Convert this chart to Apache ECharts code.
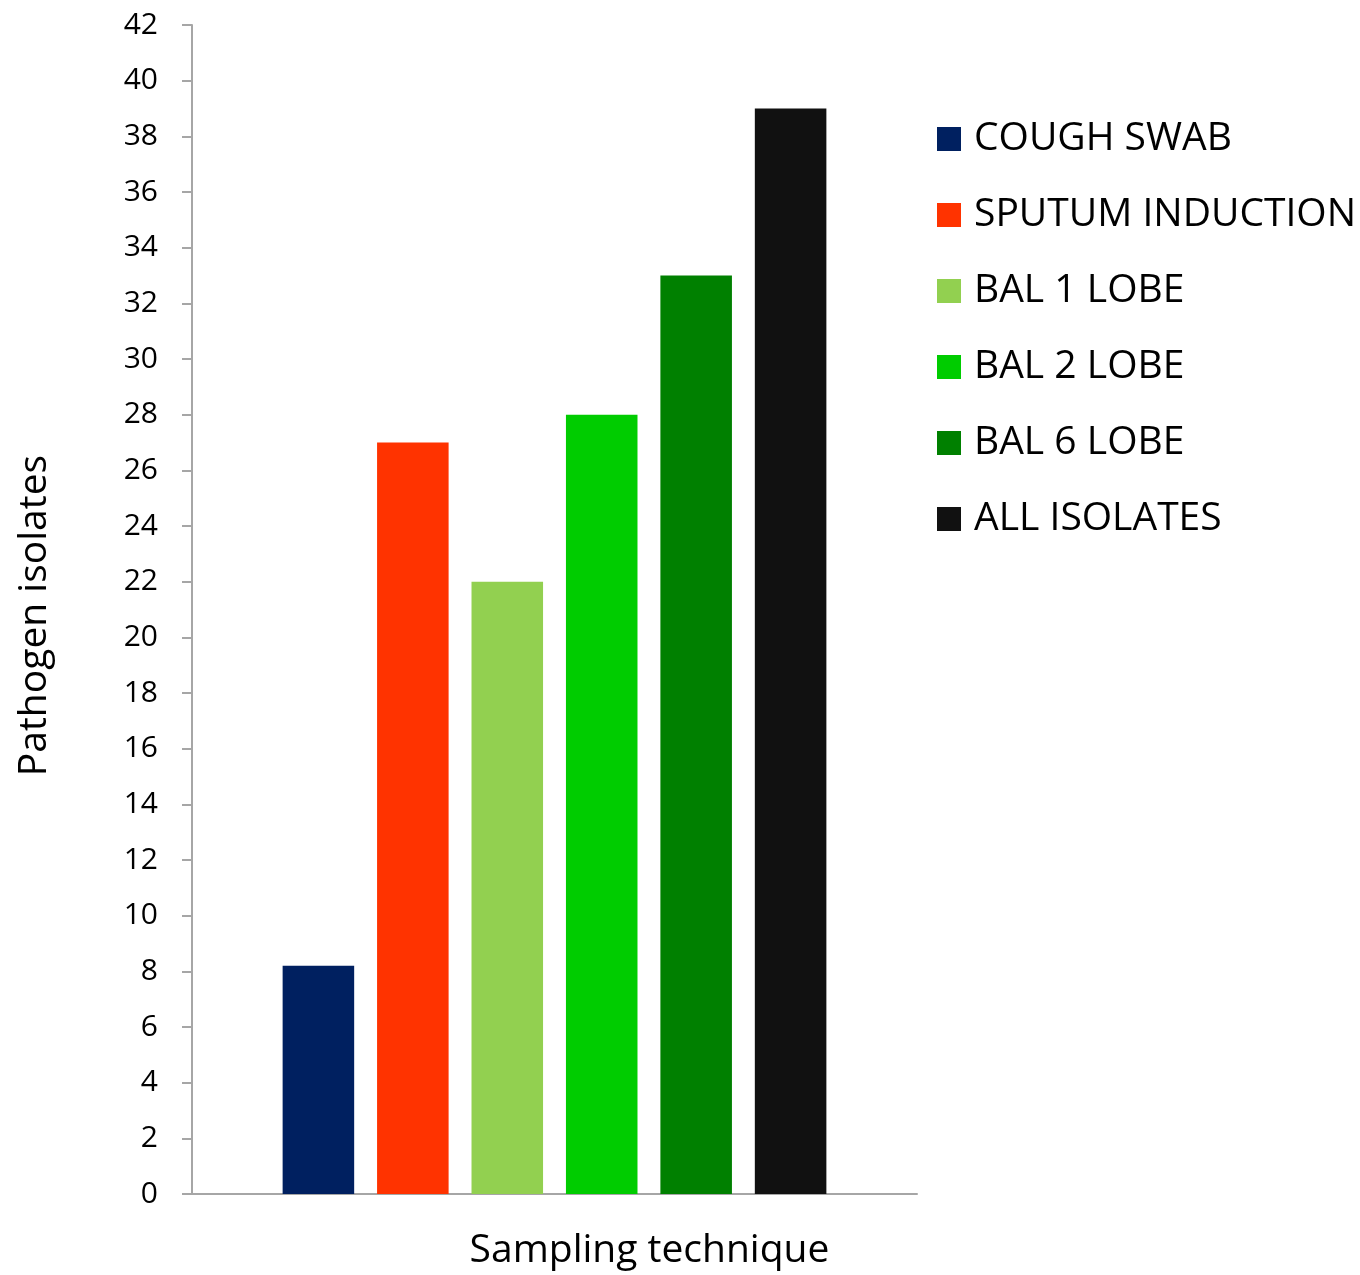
<!DOCTYPE html>
<html>
<head>
<meta charset="utf-8">
<script src="https://cdn.jsdelivr.net/npm/echarts@6/dist/echarts.min.js"></script>
<style>
  html, body { margin: 0; padding: 0; background: #fff; }
  #chart { width: 1360px; height: 1275px; }
</style>
</head>
<body>
<div id="chart"></div>
<script>
// Pathogen isolates recovered by each sampling technique
const categories = [''];
const seriesNames = ['COUGH SWAB', 'SPUTUM INDUCTION', 'BAL 1 LOBE', 'BAL 2 LOBE', 'BAL 6 LOBE', 'ALL ISOLATES'];
const seriesValues = [8.2, 27, 22, 28, 33, 39];
const seriesColors = ['#002060', '#FF3300', '#92D050', '#00CC00', '#008000', '#111111'];
const yTicks = { min: 0, max: 42, interval: 2 };

const FONT = '"Open Sans", "Noto Sans", sans-serif';

const chart = echarts.init(document.getElementById('chart'), null, { renderer: 'canvas' });

const series = seriesNames.map((name, i) => ({
  name: name,
  type: 'bar',
  data: [seriesValues[i]],
  itemStyle: { color: seriesColors[i] },
  barGap: '32%',
  barCategoryGap: '25%'
}));

chart.setOption({
  animation: false,
  backgroundColor: '#ffffff',
  textStyle: { fontFamily: FONT, color: '#000' },
  grid: { left: 192, right: 443, top: 25, bottom: 81, containLabel: false, outerBoundsMode: 'none' },
  legend: {
    orient: 'vertical',
    left: 932,
    top: 112,
    itemWidth: 24,
    itemHeight: 24,
    itemGap: 32,
    icon: 'rect',
    textStyle: { fontFamily: FONT, fontSize: 39, color: '#000', padding: [0, 0, 0, 8], lineHeight: 44 },
    data: seriesNames
  },
  xAxis: {
    type: 'category',
    data: categories,
    name: 'Sampling technique',
    nameLocation: 'middle',
    nameGap: 37,
    nameTextStyle: { fontFamily: FONT, fontSize: 39, color: '#000', padding: [0, 0, 0, 190] },
    axisLine: { lineStyle: { color: '#A6A6A6', width: 2 } },
    axisTick: { show: false },
    axisLabel: { show: false }
  },
  yAxis: {
    type: 'value',
    min: yTicks.min,
    max: yTicks.max,
    interval: yTicks.interval,
    name: 'Pathogen isolates',
    nameLocation: 'middle',
    nameGap: 138,
    nameTextStyle: { fontFamily: FONT, fontSize: 39, color: '#000', padding: [0, 12, 0, 0] },
    axisLine: { show: true, lineStyle: { color: '#A6A6A6', width: 2 } },
    axisTick: { show: true, length: 10, lineStyle: { color: '#A6A6A6', width: 2 } },
    axisLabel: { fontFamily: FONT, fontSize: 30, color: '#000', margin: 34 },
    splitLine: { show: false }
  },
  series: series
});
</script>
</body>
</html>
